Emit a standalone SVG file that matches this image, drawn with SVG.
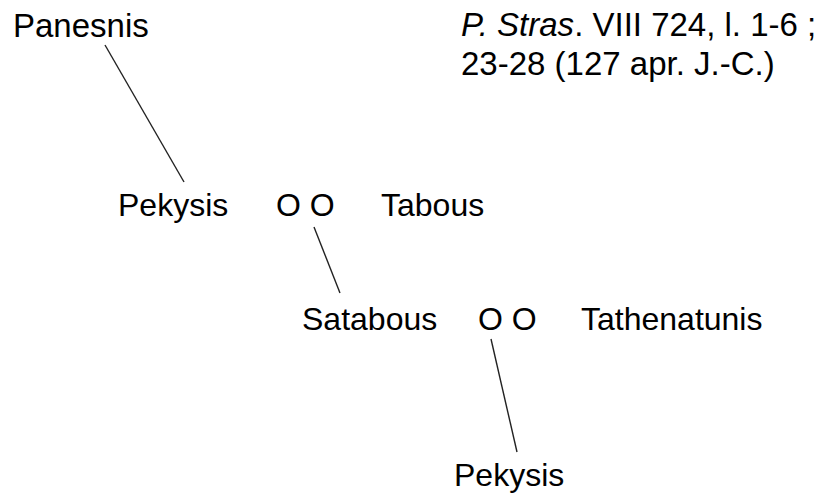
<svg xmlns="http://www.w3.org/2000/svg" width="826" height="498" viewBox="0 0 826 498">
<style>
text{font-family:"Liberation Sans",Arial,sans-serif;font-size:32px;fill:#000}
.big{font-size:33px}
.c line{stroke:#222;stroke-width:1.4}
</style>
<rect width="826" height="498" fill="#fff"/>
<g class="c" id="connectors">
<line x1="105" y1="45" x2="184" y2="182"/>
<line x1="314" y1="227" x2="340" y2="293"/>
<line x1="491" y1="339" x2="517" y2="452"/>
</g>
<g id="panesnis"><text class="big" x="13" y="37">Panesnis</text></g>
<g id="source"><text class="big" x="461" y="36"><tspan font-style="italic">P. Stras</tspan>. VIII 724, l. 1-6 ;</text><text class="big" x="461" y="75">23-28 (127 apr. J.-C.)</text></g>
<g id="pekysis1"><text x="118" y="216">Pekysis</text></g>
<g id="couple1"><text x="276" y="216">O O</text></g>
<g id="tabous"><text x="381" y="216">Tabous</text></g>
<g id="satabous"><text x="302" y="330">Satabous</text></g>
<g id="couple2"><text x="478" y="330">O O</text></g>
<g id="tathenatunis"><text x="581" y="330">Tathenatunis</text></g>
<g id="pekysis2"><text x="454" y="486">Pekysis</text></g>
</svg>
